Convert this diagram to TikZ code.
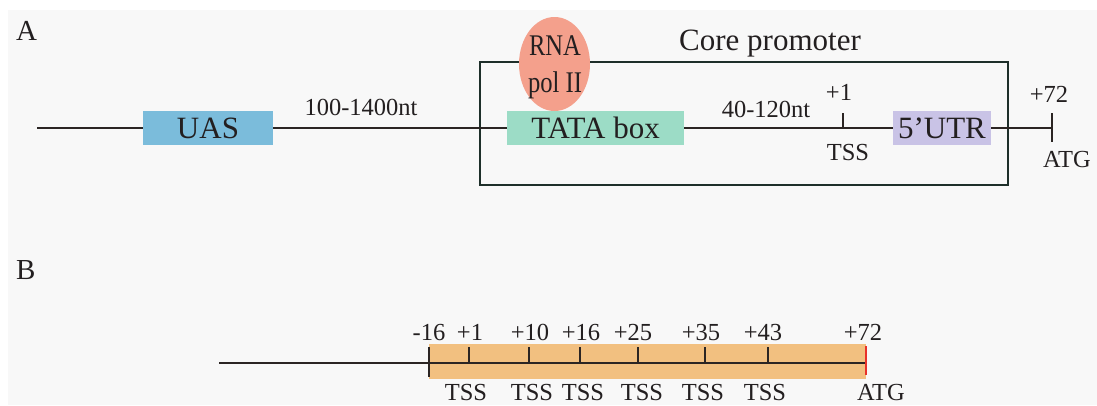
\documentclass[tikz,border=0pt]{standalone}
\usepackage{fontspec}
\setmainfont{Liberation Serif}
\newfontfamily\condfont[FakeStretch=0.82]{Liberation Serif}
\usetikzlibrary{shapes.geometric}
\definecolor{panel}{HTML}{F8F8F8}
\definecolor{linec}{HTML}{2B2523}
\definecolor{framec}{HTML}{1E2F2A}
\definecolor{textc}{HTML}{231F20}
\definecolor{uasc}{HTML}{7BBCDB}
\definecolor{tatac}{HTML}{9CDCC6}
\definecolor{utrc}{HTML}{C9C3E6}
\definecolor{polc}{HTML}{F4A08C}
\definecolor{barc}{HTML}{F2C080}
\definecolor{atgred}{HTML}{E8312A}
\begin{document}
\begin{tikzpicture}[x=1pt,y=-1pt,
  dna/.style={draw=linec,line width=2.4pt},
  tick/.style={draw=linec,line width=2.2pt},
  segbox/.style={rectangle,inner sep=0pt,minimum height=34pt,text height=21pt,text depth=0pt,text=textc,font=\fontsize{31}{34}\selectfont},
  lbl/.style={anchor=base,inner sep=0pt,text=textc,font=\fontsize{24.5}{28}\selectfont},
  panellbl/.style={anchor=base west,inner sep=0pt,text=textc,font=\fontsize{29}{32}\selectfont}]
\useasboundingbox (0,0) rectangle (1097,405);
\fill[white] (0,0) rectangle (1097,405);
\fill[panel] (8,10) rectangle (1097,405);

% ---------- Panel A ----------
\node[panellbl] (labA) at (16,40) {A};
\node[draw=framec,line width=2.6pt,minimum width=528pt,minimum height=123pt,inner sep=0pt] (core) at (744,123.5) {};
\node[anchor=base,inner sep=0pt,text=textc,font=\fontsize{31}{34}\selectfont] (coretxt) at (770,50) {Core promoter};

\coordinate (startA) at (37,128);
\coordinate (atgA) at (1052,128);
\node[segbox,fill=uasc,minimum width=130pt] (uas) at (208,128) {UAS};
\node[segbox,fill=tatac,minimum width=177pt] (tata) at (595.5,128) {TATA box};
\node[segbox,fill=utrc,minimum width=98pt] (utr) at (942,128) {5’UTR};
\draw[dna] (startA) -- (uas.west);
\draw[dna] (uas.east) -- (tata.west);
\draw[dna] (tata.east) -- (utr.west);
\draw[dna] (utr.east) -- (atgA);

\coordinate (tssA) at (843,128);
\draw[tick] (tssA) -- ++(0,-15);
\draw[tick] (1052,113) -- (1052,142);

\node[ellipse,fill=polc,minimum width=71pt,minimum height=94pt,inner sep=0pt] (pol) at (554.5,64) {};
\node[align=center,inner sep=0pt,text=textc,font=\condfont\fontsize{30}{37}\selectfont] (poltxt) at (555,67) {RNA\\pol II};

\node[lbl] (nt1) at (361,115) {100-1400nt};
\node[lbl] (nt2) at (766,117) {40-120nt};
\node[lbl] (p1A) at (839,100) {+1};
\node[lbl] (tssAt) at (848,160) {TSS};
\node[lbl] (p72A) at (1049,102) {+72};
\node[lbl] (atgAt) at (1067,167) {ATG};

% ---------- Panel B ----------
\node[panellbl] (labB) at (16,279) {B};
\node[rectangle,fill=barc,inner sep=0pt,minimum width=437pt,minimum height=35pt] (bar) at (647.5,361.5) {};
\coordinate (startB) at (219,363);
\coordinate (m16) at (429,363);
\coordinate (endB) at (866,363);
\draw[dna] (startB) -- (m16) -- (endB);
\draw[tick] (429,347) -- (429,377);
\foreach \xx/\nm in {469/t1,529/t10,580/t16,638/t25,705/t35,768/t43}{
  \coordinate (\nm) at (\xx,363);
  \draw[tick] (\nm) -- ++(0,-16);
}
\draw[draw=atgred,line width=2.2pt] (866,346) -- (866,375);

\node[lbl] (bm16) at (429,340) {-16};
\node[lbl] (bp1) at (470,340) {+1};
\node[lbl] (bp10) at (530,340) {+10};
\node[lbl] (bp16) at (581,340) {+16};
\node[lbl] (bp25) at (633,340) {+25};
\node[lbl] (bp35) at (701,340) {+35};
\node[lbl] (bp43) at (763,340) {+43};
\node[lbl] (bp72) at (863,340) {+72};

\node[lbl] (bt1) at (466,400) {TSS};
\node[lbl] (bt2) at (532,400) {TSS};
\node[lbl] (bt3) at (583,400) {TSS};
\node[lbl] (bt4) at (642,400) {TSS};
\node[lbl] (bt5) at (703,400) {TSS};
\node[lbl] (bt6) at (765,400) {TSS};
\node[lbl] (batg) at (881,400) {ATG};
\end{tikzpicture}
\end{document}
